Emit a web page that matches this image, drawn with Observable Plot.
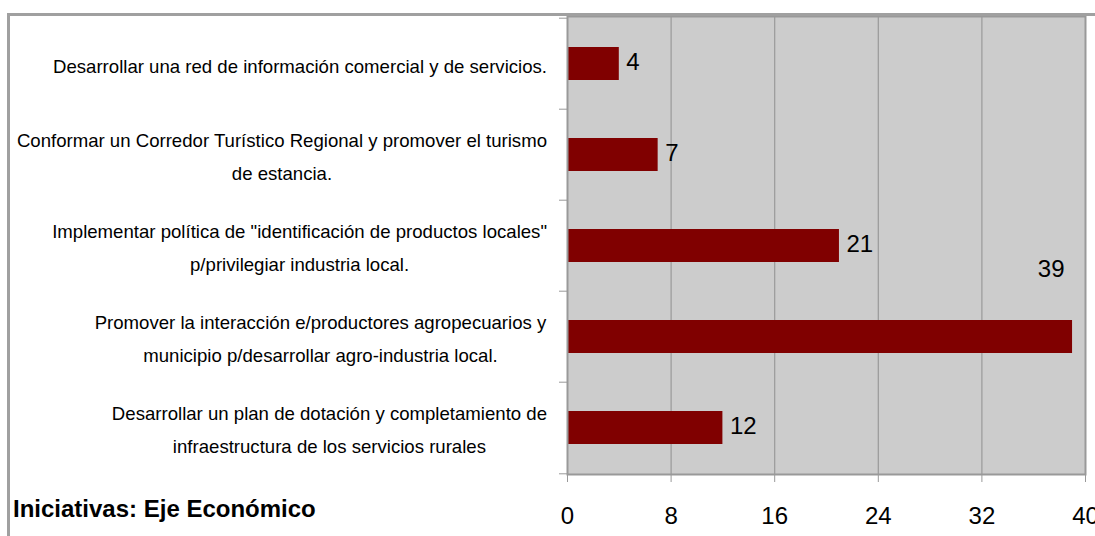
<!DOCTYPE html>
<html>
<head>
<meta charset="utf-8">
<script src="https://cdn.jsdelivr.net/npm/d3@7"></script>
<script src="https://cdn.jsdelivr.net/npm/@observablehq/plot@0.6"></script>
<style>
  html, body { margin: 0; padding: 0; background: #ffffff; }
  #chart { position: relative; width: 1095px; height: 536px; }
</style>
</head>
<body>
<div id="chart"></div>
<script>
const categories = [
  "Desarrollar una red de información comercial y de servicios.",
  "Conformar un Corredor Turístico Regional y promover el turismo\nde estancia.",
  "Implementar política de \"identificación de productos locales\"\np/privilegiar industria local.",
  "Promover la interacción e/productores agropecuarios y\nmunicipio p/desarrollar agro-industria local.",
  "Desarrollar un plan de dotación y completamiento de\ninfraestructura de los servicios rurales"
];
const values = [4, 7, 21, 39, 12];
const xTicks = [0, 8, 16, 24, 32, 40];
const titleText = "Iniciativas: Eje Económico";

const W = 1095, H = 536, mL = 567, mR = 10, mT = 16, mB = 62;
const step = (H - mT - mB) / categories.length;
const frameW = W - mL - mR;
const data = categories.map((c, i) => ({category: c, value: values[i]}));
const xMax = xTicks[xTicks.length - 1];
const fits = d => d.value <= xMax - 3;
const font = "'Liberation Sans', Arial, sans-serif";

const plot = Plot.plot({
  width: W, height: H,
  marginLeft: mL, marginRight: mR, marginTop: mT, marginBottom: mB,
  style: {background: "transparent", fontFamily: font, color: "#000"},
  x: {domain: [0, xMax], axis: null, label: null},
  y: {domain: categories, paddingInner: 0.64, paddingOuter: 0.32, axis: null, label: null},
  marks: [
    Plot.frame({fill: "#cccccc", stroke: "none"}),
    Plot.ruleX(xTicks.slice(1, -1), {stroke: "#999999", strokeWidth: 1.2}),
    Plot.barX(data, {x: "value", y: "category", fill: "#800000"}),
    Plot.frame({stroke: "#999999", strokeWidth: 2}),
    Plot.axisX({ticks: xTicks, tickSize: 8, tickPadding: 24, fontSize: 24, stroke: "#999999", fill: "#000", label: null, tickFormat: d => String(d)}),
    Plot.ruleY(categories, {y: d => d, dy: -step / 2, insetLeft: -8, insetRight: frameW, stroke: "#999999"}),
    Plot.ruleY(categories.slice(-1), {y: d => d, dy: step / 2, insetLeft: -8, insetRight: frameW, stroke: "#999999"}),
    Plot.text(data.filter(fits), {x: "value", y: "category", text: d => String(d.value), textAnchor: "start", dx: 7, dy: -2, fontSize: 24, fill: "#000"}),
    Plot.text(data.filter(d => !fits(d)), {x: "value", y: "category", text: d => String(d.value), textAnchor: "end", dx: -8, dy: -68, fontSize: 24, fill: "#000"}),
    Plot.text(data, {y: "category", text: "category", frameAnchor: "left", textAnchor: "middle", lineHeight: 1.8, fontSize: 18.6, fill: "#000", className: "ylab"})
  ]
});

document.getElementById("chart").appendChild(plot);

// right-align each multi-line label block at a fixed edge, lines centered within the block
const rightEdge = 547;
const svgBox = plot.getBoundingClientRect();
d3.select(plot).selectAll("g.ylab text").each(function() {
  const r = this.getBoundingClientRect();
  const shift = rightEdge - (r.right - svgBox.left);
  const t = this.getAttribute("transform") || "";
  this.setAttribute("transform", `translate(${shift},-2) ` + t);
});

// outer chart border (top and left) and title
const svg = d3.select(plot);
svg.append("path")
  .attr("d", `M8.5,${H} V14.5 H${W}`)
  .attr("fill", "none").attr("stroke", "#a0a0a0").attr("stroke-width", 3);
svg.append("text")
  .attr("x", 13).attr("y", 517)
  .attr("text-anchor", "start")
  .attr("font-family", font).attr("font-size", 24).attr("font-weight", "bold")
  .attr("fill", "#000")
  .text(titleText);
</script>
</body>
</html>
